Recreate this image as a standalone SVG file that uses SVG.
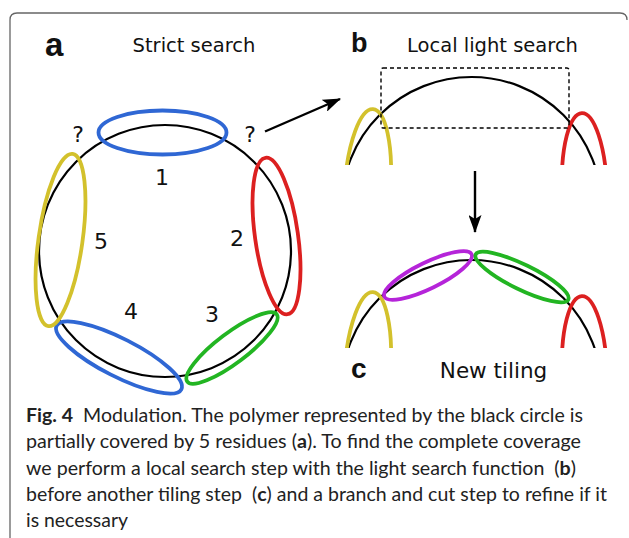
<svg xmlns="http://www.w3.org/2000/svg" width="629" height="538" viewBox="0 0 629 538">
<style>
.lbl{font-family:"DejaVu Sans",sans-serif;font-size:19.5px;fill:#111;text-anchor:middle}
.num{font-family:"DejaVu Sans",sans-serif;font-size:22px;fill:#111;text-anchor:middle}
.pan{font-family:"Liberation Sans",Arial,sans-serif;font-weight:bold;fill:#111}
.poly{fill:none;stroke:#000;stroke-width:2.2}
.res{fill:none;stroke-width:3.8}
.blue{stroke:#2f67d4}
.red{stroke:#dc2020}
.green{stroke:#22b522}
.yellow{stroke:#d3c12c}
.purple{stroke:#b524d9}
.arrow{fill:none;stroke:#000;stroke-width:2.4}
.cap{font-family:Lato,"Open Sans",sans-serif;font-size:19px;fill:#222;white-space:pre}
</style>
<defs>
<marker id="ah" viewBox="0 0 18 13" refX="17" refY="6.5" markerWidth="18" markerHeight="13" markerUnits="userSpaceOnUse" orient="auto">
<path d="M0,0 L18,6.5 L0,13 L4,6.5 z" fill="#000"/>
</marker>
<clipPath id="cut" clipPathUnits="userSpaceOnUse">
<rect x="330" y="60" width="290" height="105"/>
</clipPath>
</defs>
<rect width="629" height="538" fill="#fff"/>
<path d="M10,538 L10,20 Q10,13 17,13 L620,13 Q627,13 627,20" fill="none" stroke="#666" stroke-width="1.3"/>

<g id="panel-a">
<text class="pan" x="45" y="56" style="font-size:33px">a</text>
<text class="lbl" x="194" y="52">Strict search</text>
<circle id="polymer-a" class="poly" cx="165" cy="251" r="126"/>
<g id="res1"><ellipse class="res blue" cx="162.5" cy="132.5" rx="64" ry="22"/><text class="num" x="162" y="185">1</text></g>
<g id="res2"><ellipse class="res red" cx="276.5" cy="236" rx="21.5" ry="79" transform="rotate(-8 276.5 236)"/><text class="num" x="237" y="246">2</text></g>
<g id="res3"><ellipse class="res green" cx="232" cy="348" rx="56" ry="15" transform="rotate(-37 232 348)"/><text class="num" x="212" y="322">3</text></g>
<g id="res4"><ellipse class="res blue" cx="119" cy="357.5" rx="70" ry="19" transform="rotate(27 119 357.5)"/><text class="num" x="131" y="319">4</text></g>
<g id="res5"><ellipse class="res yellow" cx="60.5" cy="240" rx="22" ry="87" transform="rotate(8 60.5 240)"/><text class="num" x="101" y="249">5</text></g>
<text class="num" x="78" y="142">?</text>
<text class="num" x="250" y="142">?</text>
</g>

<g id="panel-b">
<text class="pan" x="351" y="52" style="font-size:27px">b</text>
<text class="lbl" x="492.5" y="52">Local light search</text>
<g clip-path="url(#cut)">
<circle class="poly" cx="471.5" cy="207" r="130"/>
<ellipse class="res yellow" cx="367.5" cy="188" rx="23" ry="79" transform="rotate(4 367.5 188)"/>
<ellipse class="res red" cx="584.5" cy="189" rx="22.5" ry="76" transform="rotate(-2 584.5 189)"/>
</g>
<rect x="381" y="68" width="188" height="60" rx="2" fill="none" stroke="#000" stroke-width="1.4" stroke-dasharray="4 3"/>
</g>

<g id="panel-c">
<g transform="translate(0 183)">
<g clip-path="url(#cut)">
<circle class="poly" cx="471.5" cy="207" r="130"/>
<ellipse class="res yellow" cx="367.5" cy="188" rx="23" ry="79" transform="rotate(4 367.5 188)"/>
<ellipse class="res red" cx="584.5" cy="189" rx="22.5" ry="76" transform="rotate(-2 584.5 189)"/>
</g>
</g>
<ellipse class="res purple" cx="428" cy="275.5" rx="48.5" ry="13" transform="rotate(-26 428 275.5)"/>
<ellipse class="res green" cx="522" cy="277" rx="51.5" ry="12.5" transform="rotate(26 522 277)"/>
<text class="pan" x="351" y="378" style="font-size:28px">c</text>
<text class="lbl" x="493.5" y="378" style="font-size:21.5px">New tiling</text>
</g>

<g id="connectors">
<line class="arrow" x1="265" y1="131.5" x2="340" y2="99" marker-end="url(#ah)"/>
<line class="arrow" x1="475" y1="171" x2="475" y2="232" marker-end="url(#ah)"/>
</g>

<g id="caption">
<text class="cap" x="26" y="422" textLength="557" lengthAdjust="spacingAndGlyphs"><tspan font-weight="bold">Fig. 4</tspan>  Modulation. The polymer represented by the black circle is</text>
<text class="cap" x="26" y="448" textLength="555" lengthAdjust="spacingAndGlyphs">partially covered by 5 residues (<tspan font-weight="bold">a</tspan>). To find the complete coverage</text>
<text class="cap" x="26" y="474.5" textLength="550" lengthAdjust="spacingAndGlyphs">we perform a local search step with the light search function  (<tspan font-weight="bold">b</tspan>)</text>
<text class="cap" x="26" y="500.5" textLength="581" lengthAdjust="spacingAndGlyphs">before another tiling step  (<tspan font-weight="bold">c</tspan>) and a branch and cut step to refine if it</text>
<text class="cap" x="26" y="527" textLength="102" lengthAdjust="spacingAndGlyphs">is necessary</text>
</g>
</svg>
